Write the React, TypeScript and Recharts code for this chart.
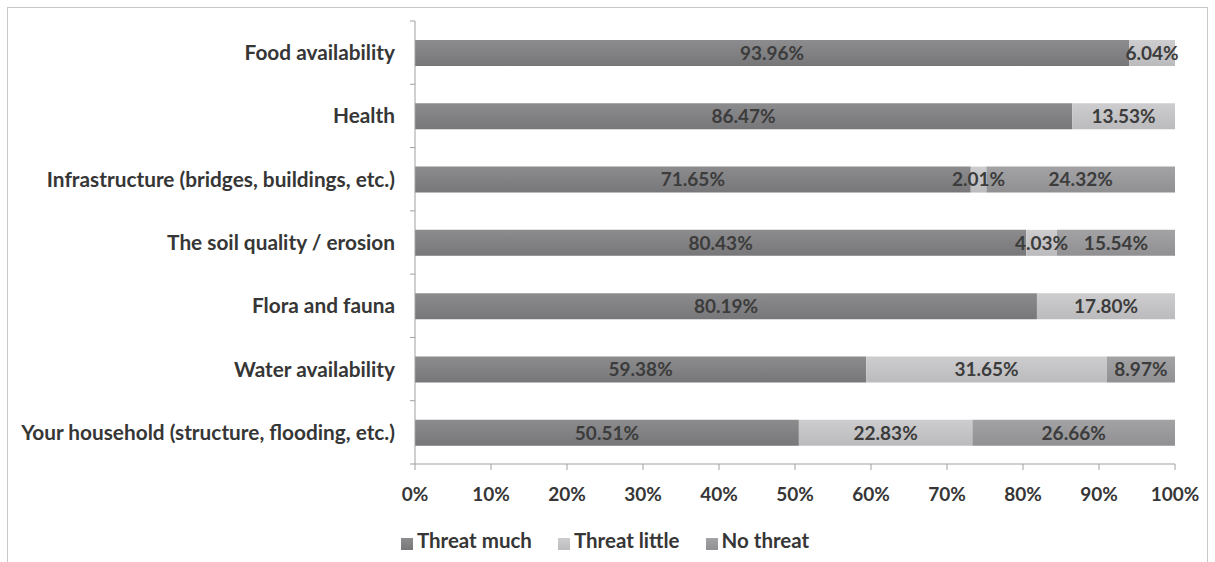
import { BarChart, Bar, XAxis, YAxis, Legend, LabelList } from "recharts"

const categories = [
  "Food availability",
  "Health",
  "Infrastructure (bridges, buildings, etc.)",
  "The soil quality / erosion",
  "Flora and fauna",
  "Water availability",
  "Your household (structure, flooding, etc.)",
]
const threatMuch = [93.96, 86.47, 71.65, 80.43, 80.19, 59.38, 50.51]
const threatLittle = [6.04, 13.53, 2.01, 4.03, 17.8, 31.65, 22.83]
const noThreat = [0, 0, 24.32, 15.54, 0, 8.97, 26.66]
const xTicks = [0, 0.1, 0.2, 0.3, 0.4, 0.5, 0.6, 0.7, 0.8, 0.9, 1]
const seriesOrder = ["Threat much", "Threat little", "No threat"]

const data = categories.map((name, i) => ({
  name,
  much: threatMuch[i],
  little: threatLittle[i],
  none: noThreat[i],
}))

const FONT = "Lato, 'Liberation Sans', sans-serif"
const TEXT = "#363636"
const AXIS = "#a0a0a0"

const W = 1201
const H = 553
const MARGIN = { top: 14, right: 33, left: 0, bottom: 10 }
const Y_WIDTH = 408
const X_HEIGHT = 64
const LEGEND_H = 22
const PLOT_H = H - MARGIN.top - MARGIN.bottom - X_HEIGHT - LEGEND_H
const STEP = PLOT_H / categories.length
const TICK_GAP = 20

// category label plus a tick mark on the band edge (Excel style)
function CategoryTick(props: any) {
  const { x, y, payload, index } = props
  const ax = x + TICK_GAP
  const last = index === categories.length - 1
  return (
    <g>
      <line x1={ax - 5} x2={ax} y1={y - STEP / 2} y2={y - STEP / 2} stroke={AXIS} />
      {last && <line x1={ax - 5} x2={ax} y1={y + STEP / 2} y2={y + STEP / 2} stroke={AXIS} />}
      <text
        x={x}
        y={y}
        dy="0.36em"
        textAnchor="end"
        fill={TEXT}
        fontFamily={FONT}
        fontWeight={700}
        fontSize={20.8}
      >
        {payload.value}
      </text>
    </g>
  )
}

function SegmentLabel(props: any) {
  const { x, y, width, height, value } = props
  if (!value) return null
  return (
    <text
      x={x + width / 2}
      y={y + height / 2}
      dy="0.36em"
      textAnchor="middle"
      fill="#3c3c3c"
      fontFamily={FONT}
      fontWeight={700}
      fontSize={19}
    >
      {value.toFixed(2)}%
    </text>
  )
}

export default function App() {
  return (
    <div style={{ position: "absolute", left: 0, top: 0, width: 1215, height: 562, background: "#fff" }}>
      <div
        style={{
          position: "absolute",
          left: 7,
          top: 7,
          width: W - 2,
          height: 555,
          border: "1px solid #c8c8c8",
        }}
      />
      <div style={{ position: "absolute", left: 7, top: 7 }}>
        <BarChart
          width={W}
          height={H}
          data={data}
          layout="vertical"
          stackOffset="expand"
          margin={MARGIN}
          barSize={26}
        >
          <defs>
            <linearGradient id="gMuch" x1="0" y1="0" x2="0" y2="1">
              <stop offset="0%" stopColor="#8c8c8e" />
              <stop offset="100%" stopColor="#77777a" />
            </linearGradient>
            <linearGradient id="gLittle" x1="0" y1="0" x2="0" y2="1">
              <stop offset="0%" stopColor="#cdcdcf" />
              <stop offset="100%" stopColor="#bbbbbd" />
            </linearGradient>
            <linearGradient id="gNone" x1="0" y1="0" x2="0" y2="1">
              <stop offset="0%" stopColor="#a3a3a5" />
              <stop offset="100%" stopColor="#909093" />
            </linearGradient>
          </defs>
          <XAxis
            type="number"
            domain={[0, 1]}
            ticks={xTicks}
            tickFormatter={(v: number) => `${Math.round(v * 100)}%`}
            height={X_HEIGHT}
            stroke={AXIS}
            tickSize={6}
            tickMargin={18}
            tick={{ fill: TEXT, fontFamily: FONT, fontWeight: 700, fontSize: 19 }}
          />
          <YAxis
            type="category"
            dataKey="name"
            width={Y_WIDTH}
            stroke={AXIS}
            tickLine={false}
            tickSize={0}
            tickMargin={TICK_GAP}
            tick={<CategoryTick />}
            interval={0}
          />
          <Legend
            verticalAlign="bottom"
            iconType="square"
            iconSize={12}
            height={LEGEND_H}
            wrapperStyle={{ paddingLeft: 27 }}
            itemSorter={(item: any) => seriesOrder.indexOf(item.value)}
            formatter={(v: string) => (
              <span style={{ color: TEXT, fontFamily: FONT, fontWeight: 700, fontSize: 20.5, paddingRight: 16 }}>
                {v}
              </span>
            )}
          />
          <Bar dataKey="much" name="Threat much" stackId="a" fill="url(#gMuch)" isAnimationActive={false}>
            <LabelList dataKey="much" content={<SegmentLabel />} />
          </Bar>
          <Bar dataKey="little" name="Threat little" stackId="a" fill="url(#gLittle)" isAnimationActive={false}>
            <LabelList dataKey="little" content={<SegmentLabel />} />
          </Bar>
          <Bar dataKey="none" name="No threat" stackId="a" fill="url(#gNone)" isAnimationActive={false}>
            <LabelList dataKey="none" content={<SegmentLabel />} />
          </Bar>
        </BarChart>
      </div>
    </div>
  )
}
